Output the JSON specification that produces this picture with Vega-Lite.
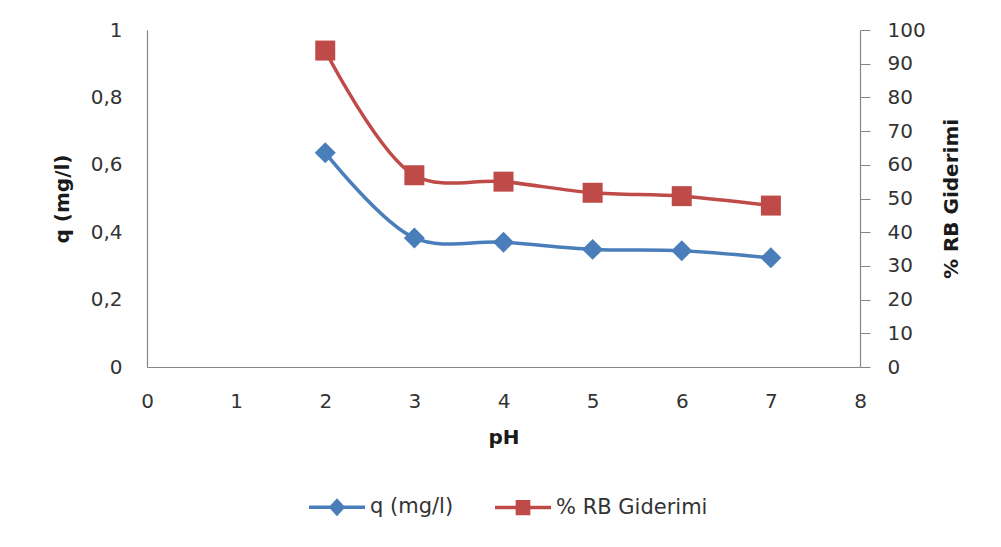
{
  "$schema": "https://vega.github.io/schema/vega-lite/v6.json",
  "autosize": "none",
  "width": 713,
  "height": 337,
  "padding": {"left": 147, "top": 30, "right": 141, "bottom": 180},
  "background": "white",
  "config": {
    "view": {"stroke": null},
    "font": "DejaVu Sans",
    "axis": {
      "grid": false,
      "labelFlush": false,
      "labelOverlap": false,
      "labelFont": "DejaVu Sans",
      "titleFont": "DejaVu Sans",
      "labelFontSize": 20,
      "titleFontSize": 20,
      "titleFontWeight": "bold",
      "labelColor": "#333333",
      "titleColor": "#1a1a1a",
      "domainColor": "#868686",
      "tickColor": "#868686",
      "domainWidth": 1.2
    }
  },
  "data": {
    "values": [
      {"pH": 2, "series": "q (mg/l)", "value": 0.636},
      {"pH": 3, "series": "q (mg/l)", "value": 0.383},
      {"pH": 4, "series": "q (mg/l)", "value": 0.370},
      {"pH": 5, "series": "q (mg/l)", "value": 0.349},
      {"pH": 6, "series": "q (mg/l)", "value": 0.345},
      {"pH": 7, "series": "q (mg/l)", "value": 0.324},
      {"pH": 2, "series": "% RB Giderimi", "value": 93.9},
      {"pH": 3, "series": "% RB Giderimi", "value": 56.9},
      {"pH": 4, "series": "% RB Giderimi", "value": 55.0},
      {"pH": 5, "series": "% RB Giderimi", "value": 51.7},
      {"pH": 6, "series": "% RB Giderimi", "value": 50.7},
      {"pH": 7, "series": "% RB Giderimi", "value": 47.9}
    ]
  },
  "encoding": {
    "x": {
      "field": "pH",
      "type": "quantitative",
      "scale": {"domain": [0, 8], "nice": false, "zero": false},
      "axis": {
        "values": [0, 1, 2, 3, 4, 5, 6, 7, 8],
        "ticks": false,
        "labelPadding": 24,
        "title": "pH",
        "titlePadding": 16
      }
    },
    "color": {
      "field": "series",
      "type": "nominal",
      "scale": {"domain": ["q (mg/l)", "% RB Giderimi"], "range": ["#4A7EBB", "#BE4B48"]},
      "legend": {
        "title": null,
        "orient": "none",
        "direction": "horizontal",
        "legendX": 160,
        "legendY": 447,
        "padding": 0,
        "symbolSize": 3136,
        "symbolStrokeWidth": 3.5,
        "labelFont": "DejaVu Sans",
        "labelFontSize": 21,
        "labelColor": "#333333",
        "labelOffset": 3,
        "columnPadding": 34,
        "encode": {
          "symbols": {
            "update": {
              "shape": {"signal": "datum.value == 'q (mg/l)' ? 'M-1,0H1M-0.21,0L0,-0.23L0.21,0L0,0.23Z' : 'M-1,0H1M-0.2,-0.21H0.2V0.21H-0.2Z'"},
              "fill": {"scale": "color", "field": "value"},
              "stroke": {"scale": "color", "field": "value"},
              "strokeWidth": {"value": 3.5},
              "opacity": {"value": 1},
              "fillOpacity": {"value": 1}
            }
          }
        }
      }
    }
  },
  "layer": [
    {
      "transform": [{"filter": "datum.series == 'q (mg/l)'"}],
      "encoding": {
        "y": {
          "field": "value",
          "type": "quantitative",
          "scale": {"domain": [0, 1], "nice": false},
          "axis": {
            "orient": "left",
            "values": [0, 0.2, 0.4, 0.6, 0.8, 1],
            "format": "~g",
            "labelExpr": "replace(datum.label, '.', ',')",
            "ticks": false,
            "labelPadding": 25,
            "title": "q (mg/l)",
            "titlePadding": 18
          }
        }
      },
      "layer": [
        {"mark": {"type": "line", "interpolate": "catmull-rom", "strokeWidth": 3.5}},
        {"mark": {"type": "point", "shape": "diamond", "filled": true, "size": 440, "opacity": 1, "strokeWidth": 1}}
      ]
    },
    {
      "transform": [{"filter": "datum.series == '% RB Giderimi'"}],
      "encoding": {
        "y": {
          "field": "value",
          "type": "quantitative",
          "scale": {"domain": [0, 100], "nice": false},
          "axis": {
            "orient": "right",
            "values": [0, 10, 20, 30, 40, 50, 60, 70, 80, 90, 100],
            "ticks": true,
            "tickSize": 10,
            "labelPadding": 17,
            "title": "% RB Giderimi",
            "titleAngle": 270,
            "titleBaseline": "top",
            "titlePadding": 16
          }
        }
      },
      "layer": [
        {"mark": {"type": "line", "interpolate": "catmull-rom", "strokeWidth": 3.5}},
        {"mark": {"type": "point", "shape": "square", "filled": true, "size": 400, "opacity": 1, "strokeWidth": 1}}
      ]
    }
  ],
  "resolve": {"scale": {"y": "independent"}}
}
